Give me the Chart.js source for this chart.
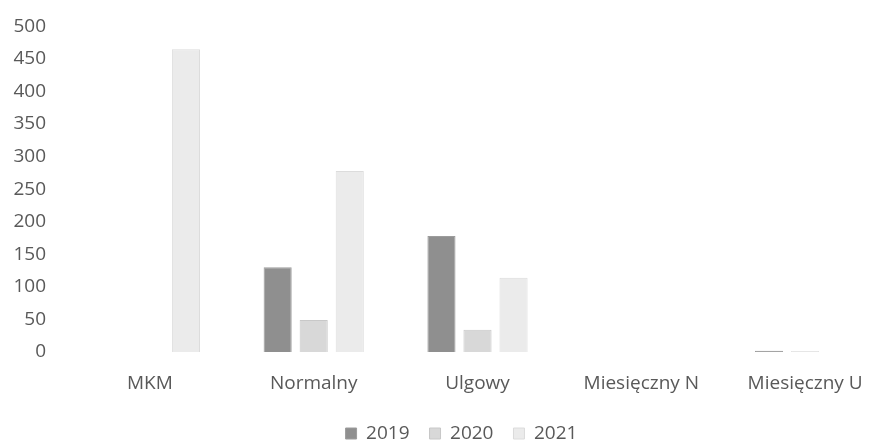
<!DOCTYPE html>
<html>
<head>
<meta charset="utf-8">
<script src="https://cdn.jsdelivr.net/npm/chart.js@4"></script>
<style>
  html, body { margin: 0; padding: 0; background: #fff; overflow: hidden; }
  .wrap { width: 924px; height: 460px; margin-top: -7px; }
</style>
</head>
<body>
<div class="wrap"><canvas id="myChart"></canvas></div>
<script>
  const categories = ["MKM", "Normalny", "Ulgowy", "Miesięczny N", "Miesięczny U"];
  const years = ["2019", "2020", "2021"];
  const values2019 = [0, 130, 178, 0, 2];
  const values2020 = [0, 49, 34, 0, 1];
  const values2021 = [465, 278, 114, 0, 0];
  const yTicks = [0, 50, 100, 150, 200, 250, 300, 350, 400, 450, 500];

  const fills = ["#8f8f8f", "#d8d8d8", "#ebebeb"];
  const borders = ["#9c9c9c", "#c8c8c8", "#dcdcdc"];
  const series = [values2019, values2020, values2021];

  const ctx = document.getElementById("myChart");

  // legend sits a bit right of the plot centre in the original
  const legendShift = {
    id: "legendShift",
    afterLayout(chart) {
      chart.legend.left += 18;
      chart.legend.right += 18;
    },
  };

  new Chart(ctx, {
    type: "bar",
    data: {
      labels: categories,
      datasets: years.map((y, i) => ({
        label: y,
        data: series[i],
        backgroundColor: fills[i],
        borderColor: borders[i],
        borderWidth: 1,
        categoryPercentage: 0.66,
        barPercentage: 0.78,
      })),
    },
    options: {
      responsive: true,
      maintainAspectRatio: false,
      animation: false,
      layout: { padding: { top: 0, right: 37, left: 0, bottom: 0 } },
      plugins: {
        legend: {
          position: "bottom",
          labels: {
            boxWidth: 11,
            boxHeight: 11,
            padding: 20,
            color: "#595959",
            font: { family: "Open Sans", size: 19 },
          },
        },
        tooltip: { enabled: false },
      },
      scales: {
        x: {
          afterFit: (scale) => {
            scale.height = 52;
          },
          grid: { display: false, drawTicks: false },
          border: { display: false },
          ticks: {
            color: "#595959",
            padding: 20,
            font: { family: "Open Sans", size: 19 },
          },
        },
        y: {
          min: 0,
          max: 500,
          afterBuildTicks: (scale) => {
            scale.ticks = yTicks.map((v) => ({ value: v }));
          },
          afterFit: (scale) => {
            scale.width = 68;
          },
          grid: { display: false, drawTicks: false },
          border: { display: false },
          ticks: {
            color: "#595959",
            padding: 22,
            font: { family: "Open Sans", size: 19 },
          },
        },
      },
    },
    plugins: [legendShift],
  });
</script>
</body>
</html>
